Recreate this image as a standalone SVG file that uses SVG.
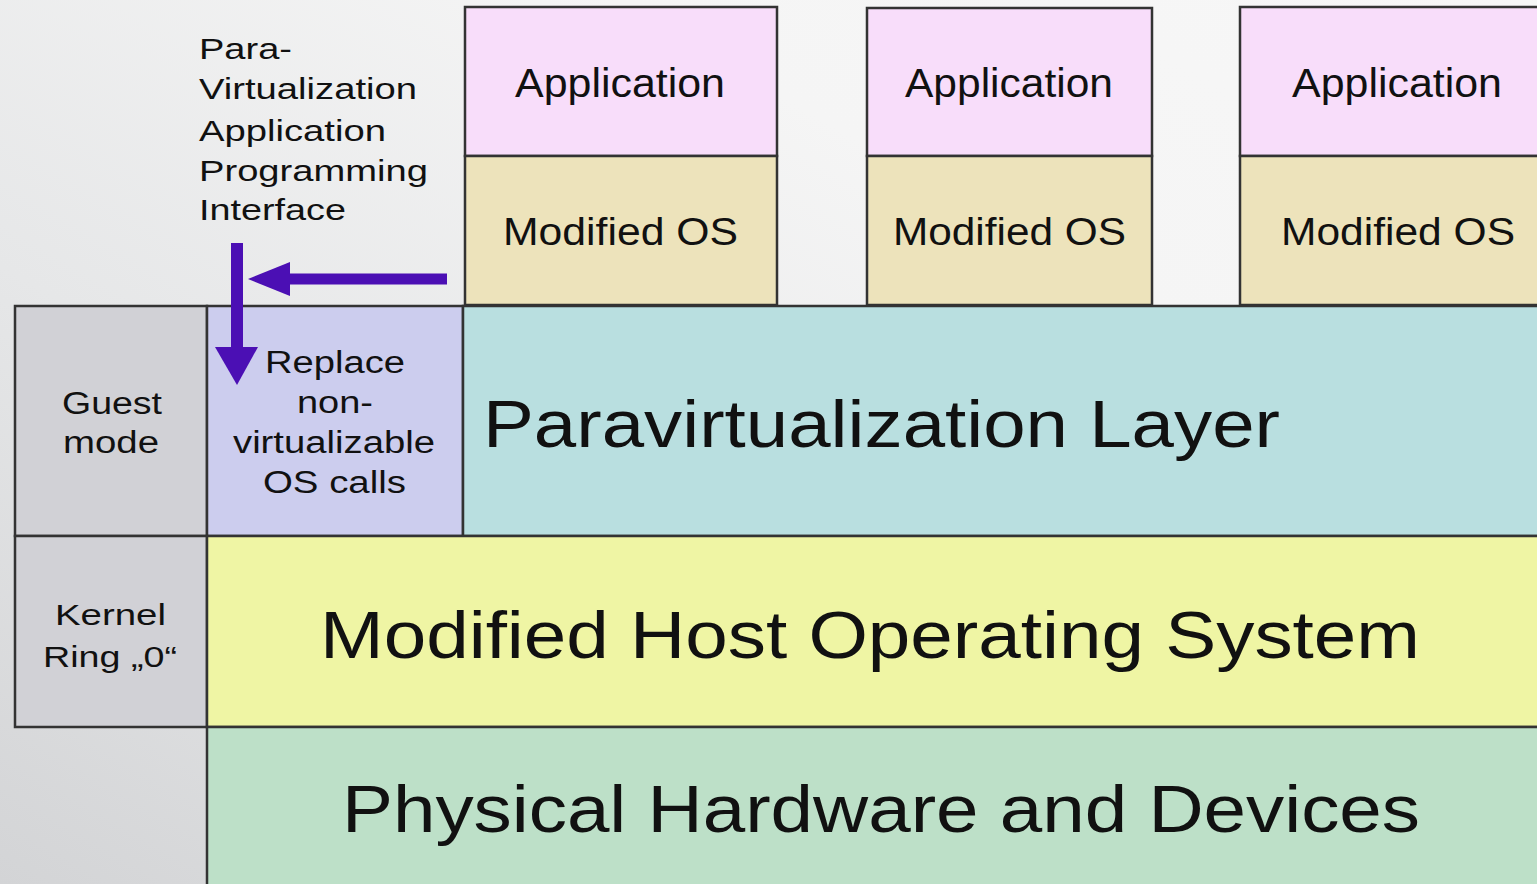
<svg xmlns="http://www.w3.org/2000/svg" width="1537" height="884" viewBox="0 0 1537 884">
<defs>
<linearGradient id="bg" x1="0" y1="1" x2="1" y2="0">
<stop offset="0" stop-color="#d3d4d6"/>
<stop offset="0.35" stop-color="#e6e7e8"/>
<stop offset="0.7" stop-color="#f5f5f5"/>
<stop offset="1" stop-color="#f7f7f7"/>
</linearGradient>
<style>
.box{stroke:#333;stroke-width:2.5}
.app{fill:#f8ddfa}
.os{fill:#ede3bb}
.mode{fill:#d1d1d6}
.rep{fill:#cccdee}
.para{fill:#b9dfe0}
.host{fill:#eff5a4}
.phys{fill:#bde0c8}
text{font-family:"Liberation Sans",Arial,sans-serif;fill:#111}
.side{font-size:30px}
.t40{font-size:40px}
.t38{font-size:38px}
.t31{font-size:31px}
.t29{font-size:29px}
.big{font-size:66px}
.arrow{stroke:#4b0fb4;fill:none}
.head{fill:#4b0fb4}
</style>
</defs>
<rect x="0" y="0" width="1537" height="884" fill="url(#bg)"/>

<g id="side-label">
<text class="side" x="199" y="59" textLength="93" lengthAdjust="spacingAndGlyphs">Para-</text>
<text class="side" x="199" y="99" textLength="218" lengthAdjust="spacingAndGlyphs">Virtualization</text>
<text class="side" x="199" y="141" textLength="187" lengthAdjust="spacingAndGlyphs">Application</text>
<text class="side" x="199" y="181" textLength="229" lengthAdjust="spacingAndGlyphs">Programming</text>
<text class="side" x="199" y="220" textLength="147" lengthAdjust="spacingAndGlyphs">Interface</text>
</g>

<g id="app1">
<rect class="box app" x="465" y="7" width="312" height="149"/>
<text class="t40" x="515" y="97" textLength="210" lengthAdjust="spacingAndGlyphs">Application</text>
</g>
<g id="os1">
<rect class="box os" x="465" y="156" width="312" height="149"/>
<text class="t38" x="503" y="245" textLength="235" lengthAdjust="spacingAndGlyphs">Modified OS</text>
</g>
<g id="app2">
<rect class="box app" x="867" y="8" width="285" height="148"/>
<text class="t40" x="905" y="97" textLength="208" lengthAdjust="spacingAndGlyphs">Application</text>
</g>
<g id="os2">
<rect class="box os" x="867" y="156" width="285" height="149"/>
<text class="t38" x="893" y="245" textLength="233" lengthAdjust="spacingAndGlyphs">Modified OS</text>
</g>
<g id="app3">
<rect class="box app" x="1240" y="7" width="320" height="149"/>
<text class="t40" x="1292" y="97" textLength="210" lengthAdjust="spacingAndGlyphs">Application</text>
</g>
<g id="os3">
<rect class="box os" x="1240" y="156" width="320" height="149"/>
<text class="t38" x="1281" y="245" textLength="234" lengthAdjust="spacingAndGlyphs">Modified OS</text>
</g>

<g id="guest-mode">
<rect class="box mode" x="15" y="306" width="192" height="230"/>
<text class="t31" x="62" y="414" textLength="100" lengthAdjust="spacingAndGlyphs">Guest</text>
<text class="t31" x="63" y="453" textLength="96" lengthAdjust="spacingAndGlyphs">mode</text>
</g>
<g id="replace">
<rect class="box rep" x="207" y="306" width="256" height="230"/>
<text class="t31" x="265" y="373" textLength="140" lengthAdjust="spacingAndGlyphs">Replace</text>
<text class="t31" x="297" y="413" textLength="76" lengthAdjust="spacingAndGlyphs">non-</text>
<text class="t31" x="233" y="453" textLength="202" lengthAdjust="spacingAndGlyphs">virtualizable</text>
<text class="t31" x="263" y="493" textLength="143" lengthAdjust="spacingAndGlyphs">OS calls</text>
</g>
<g id="para-layer">
<rect class="box para" x="463" y="306" width="1090" height="230"/>
<text class="big" x="483" y="447" textLength="797" lengthAdjust="spacingAndGlyphs">Paravirtualization Layer</text>
</g>

<g id="kernel">
<rect class="box mode" x="15" y="536" width="192" height="191"/>
<text class="t29" x="55" y="625" textLength="111" lengthAdjust="spacingAndGlyphs">Kernel</text>
<text class="t29" x="43" y="667" textLength="134" lengthAdjust="spacingAndGlyphs">Ring „0“</text>
</g>
<g id="host-os">
<rect class="box host" x="207" y="536" width="1350" height="191"/>
<text class="big" x="320" y="658" textLength="1100" lengthAdjust="spacingAndGlyphs">Modified Host Operating System</text>
</g>
<g id="hardware">
<rect class="box phys" x="207" y="727" width="1350" height="170"/>
<text class="big" x="342" y="832" textLength="1078" lengthAdjust="spacingAndGlyphs">Physical Hardware and Devices</text>
</g>

<g id="connectors">
<line class="arrow" x1="447" y1="279" x2="286" y2="279" stroke-width="11"/>
<polygon class="head" points="248,279 290,262 290,296"/>
<line class="arrow" x1="237" y1="243" x2="237" y2="350" stroke-width="12"/>
<polygon class="head" points="215,347 258,347 237,385"/>
</g>
</svg>
